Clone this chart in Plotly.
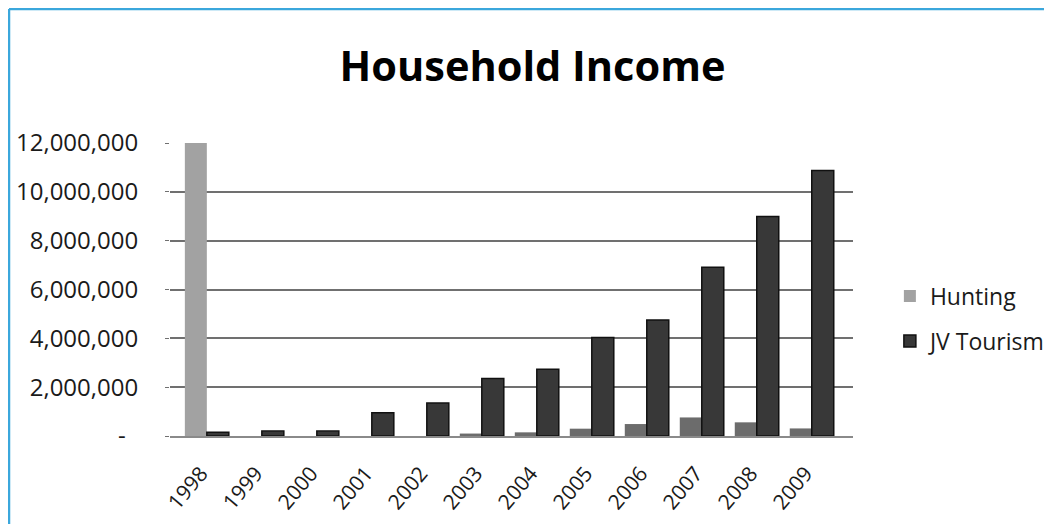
import plotly.graph_objects as go

# ---- data ----
years = ["1998", "1999", "2000", "2001", "2002", "2003",
         "2004", "2005", "2006", "2007", "2008", "2009"]
hunting = [12000000, 0, 0, 0, 0, 100000,
           150000, 300000, 490000, 760000, 560000, 310000]
jv_tourism = [150000, 200000, 200000, 950000, 1350000, 2350000,
              2730000, 4030000, 4750000, 6910000, 8990000, 10870000]
y_tick_values = [0, 2000000, 4000000, 6000000, 8000000, 10000000, 12000000]
y_tick_labels = ["-\u00a0\u00a0", "2,000,000", "4,000,000", "6,000,000",
                 "8,000,000", "10,000,000", "12,000,000"]

# ---- styles ----
hunting_colors = ["#a2a2a2"] + ["#6c6c6c"] * (len(years) - 1)
FONT = "Open Sans"
W, H = 1044, 516          # page body has an 8px margin in the 1052x524 window
L, R, T, B = 162, 199, 135, 88
PW, PH = W - L - R, H - T - B

fig = go.Figure()
fig.add_trace(go.Bar(
    x=years, y=hunting, name="Hunting",
    marker=dict(color=hunting_colors, line=dict(width=0)),
    legendgroup="h",
))
fig.add_trace(go.Bar(
    x=years, y=jv_tourism, name="JV Tourism",
    marker=dict(color="#383838", line=dict(color="#111111", width=1.5)),
    legendgroup="j",
))

fig.update_layout(
    width=W, height=H,
    margin=dict(l=L, r=R, t=T, b=B, autoexpand=False),
    paper_bgcolor="white", plot_bgcolor="white",
    barmode="group", bargap=0.2, bargroupgap=0,
    font=dict(family=FONT, size=20, color="#1a1a1a"),
    title=dict(text="<b>Household Income</b>", x=524.5 / W, xref="container",
               xanchor="center", y=1 - 58 / H, yref="container", yanchor="middle",
               font=dict(family=FONT, size=41.5, color="#000000")),
    legend=dict(x=1.054, xanchor="left", y=0.551, yanchor="top",
                font=dict(family=FONT, size=23, color="#1a1a1a"),
                tracegroupgap=12, bgcolor="rgba(0,0,0,0)"),
    showlegend=True,
)
fig.update_xaxes(
    type="category", range=[-0.67, 11.75],
    tickangle=-50, tickfont=dict(family=FONT, size=21, color="#1a1a1a"),
    showgrid=False, showline=True, linecolor="#8a8a8a", linewidth=1.5,
    ticks="", ticklabelstandoff=15, ticklabelshift=-6,
)
fig.update_yaxes(
    range=[0, 12000000], tickvals=y_tick_values, ticktext=y_tick_labels,
    tickfont=dict(family=FONT, size=24, color="#1a1a1a"),
    showgrid=True, gridcolor="#707070", gridwidth=1.5,
    zeroline=False, showline=False,
    ticks="outside", ticklen=4, tickcolor="#707070", ticklabelstandoff=22,
)

# blue frame around the figure (top and left edges)
fx = (1 - L) / PW
fy = (H - B - 1) / PH
fig.add_shape(type="line", xref="paper", yref="paper",
              x0=fx, x1=1.35, y0=fy, y1=fy,
              line=dict(color="#3ba7dc", width=2.5))
fig.add_shape(type="line", xref="paper", yref="paper",
              x0=fx, x1=fx, y0=fy, y1=-0.4,
              line=dict(color="#3ba7dc", width=2.5))

fig.write_html("out.html")
